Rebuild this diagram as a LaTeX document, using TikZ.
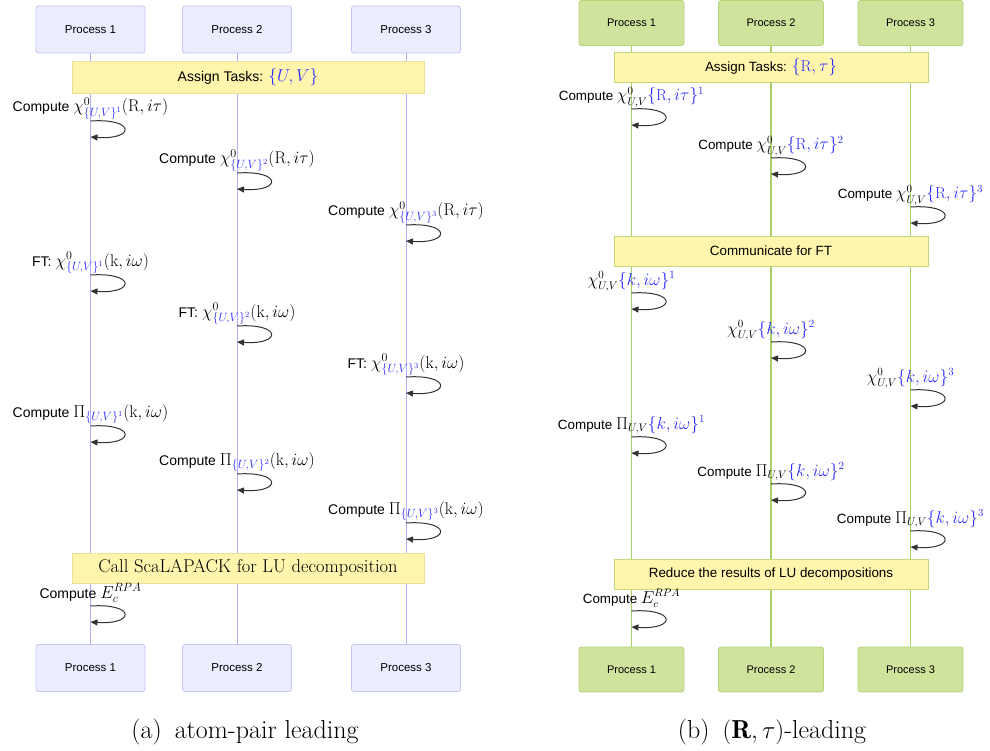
\documentclass[tikz,border=0pt]{standalone}
\usepackage{fontspec}
\setsansfont{Liberation Sans}
\usetikzlibrary{arrows.meta}
\definecolor{lbfill}{HTML}{ECECFF}
\definecolor{lbdraw}{HTML}{C4C4F5}
\definecolor{lline}{HTML}{B0B0FA}
\definecolor{gfill}{HTML}{CFE39D}
\definecolor{gdraw}{HTML}{B5D47A}
\definecolor{gline}{HTML}{A9CF68}
\definecolor{nfill}{HTML}{FFF5AD}
\definecolor{ndrawL}{HTML}{EAE09A}
\definecolor{ndrawR}{HTML}{C5D778}
\definecolor{blu}{RGB}{45,45,255}
\definecolor{arr}{HTML}{333333}
\newcommand\Mth[2][17]{{\fontsize{#1}{#1}\selectfont$#2$}}
\begin{document}
\begin{tikzpicture}[x=1pt,y=-1pt,
  pboxL/.style={draw=lbdraw, fill=lbfill, rounded corners=2.5pt, minimum width=109pt, minimum height=47pt, inner sep=0pt, line width=0.8pt, font=\sffamily\fontsize{11.5}{13}\selectfont},
  pboxR/.style={draw=gdraw, fill=gfill, rounded corners=2.5pt, minimum width=105pt, minimum height=45pt, inner sep=0pt, line width=0.8pt, font=\sffamily\fontsize{11}{13}\selectfont},
  noteL/.style={draw=ndrawL, fill=nfill, minimum width=352pt, inner sep=0pt, line width=0.8pt, font=\sffamily\fontsize{14}{16}\selectfont},
  noteR/.style={draw=ndrawR, fill=nfill, minimum width=314pt, minimum height=30pt, inner sep=0pt, line width=0.8pt, font=\sffamily\fontsize{13.4}{16}\selectfont},
  lifeL/.style={draw=lline, line width=1pt},
  lifeR/.style={draw=gline, line width=1.2pt},
  selfloop/.style={draw=arr, line width=1pt, -{Triangle[length=7pt,width=6pt]}},
  labL/.style={anchor=base, inner sep=0pt, font=\sffamily\fontsize{14}{16}\selectfont},
  labR/.style={anchor=base, inner sep=0pt, font=\sffamily\fontsize{13.4}{16}\selectfont},
  capt/.style={anchor=base, inner sep=0pt, font=\fontsize{26}{30}\selectfont}
]
\useasboundingbox (0,0) rectangle (990,751);
% ---------------- left panel ----------------
\node[pboxL] (L1t) at (90.5,29.5) {Process 1};
\node[pboxL] (L2t) at (237,29.5) {Process 2};
\node[pboxL] (L3t) at (406,29.5) {Process 3};
\node[pboxL] (L1b) at (90.5,668) {Process 1};
\node[pboxL] (L2b) at (237,668) {Process 2};
\node[pboxL] (L3b) at (406,668) {Process 3};
\draw[lifeL] (L1t.south) -- (L1b.north);
\draw[lifeL] (L2t.south) -- (L2b.north);
\draw[lifeL] (L3t.south) -- (L3b.north);
\node[noteL, minimum height=32pt] (LnA) at (248,77) {Assign Tasks: \Mth{\color{blu}\{U,V\}}};
\node[noteL, minimum height=30pt, font=\fontsize{18.5}{21}\selectfont] (LnB) at (248,568) {Call ScaLAPACK for LU decomposition};
% loops
\foreach \n/\x/\y in {a1/90.5/121, a2/237/173, a3/406/225, b1/90.5/275, b2/237/326, b3/406/377, c1/90.5/426, c2/237/474, c3/406/523, d1/90.5/606}{
  \coordinate (L\n s) at (\x,\y);
  \coordinate (L\n e) at (\x,\y+16);
  \draw[selfloop] (L\n s) .. controls +(45,-3) and +(45,3) .. (L\n e);
}
\node[labL] (tLa1) at (90.5,112) {Compute \Mth{\chi^0_{\color{blu}\{U,V\}^1}(\mathrm{R}, i\tau)}};
\node[labL] (tLa2) at (237,164) {Compute \Mth{\chi^0_{\color{blu}\{U,V\}^2}(\mathrm{R}, i\tau)}};
\node[labL] (tLa3) at (406,216) {Compute \Mth{\chi^0_{\color{blu}\{U,V\}^3}(\mathrm{R}, i\tau)}};
\node[labL] (tLb1) at (90.5,266) {FT: \Mth{\chi^0_{\color{blu}\{U,V\}^1}(\mathrm{k}, i\omega)}};
\node[labL] (tLb2) at (237,317) {FT: \Mth{\chi^0_{\color{blu}\{U,V\}^2}(\mathrm{k}, i\omega)}};
\node[labL] (tLb3) at (406,368) {FT: \Mth{\chi^0_{\color{blu}\{U,V\}^3}(\mathrm{k}, i\omega)}};
\node[labL] (tLc1) at (90.5,417) {Compute \Mth{\Pi_{\color{blu}\{U,V\}^1}(\mathrm{k}, i\omega)}};
\node[labL] (tLc2) at (237,465) {Compute \Mth{\Pi_{\color{blu}\{U,V\}^2}(\mathrm{k}, i\omega)}};
\node[labL] (tLc3) at (406,514) {Compute \Mth{\Pi_{\color{blu}\{U,V\}^3}(\mathrm{k}, i\omega)}};
\node[labL] (tLd1) at (90.5,598) {Compute \Mth{E_c^{RPA}}};
\node[capt] (capa) at (245,738) {(a)\enspace atom-pair leading};
% ---------------- right panel ----------------
\node[pboxR] (R1t) at (631.5,23) {Process 1};
\node[pboxR] (R2t) at (771,23) {Process 2};
\node[pboxR] (R3t) at (910.5,23) {Process 3};
\node[pboxR] (R1b) at (631.5,669.5) {Process 1};
\node[pboxR] (R2b) at (771,669.5) {Process 2};
\node[pboxR] (R3b) at (910.5,669.5) {Process 3};
\draw[lifeR] (R1t.south) -- (R1b.north);
\draw[lifeR] (R2t.south) -- (R2b.north);
\draw[lifeR] (R3t.south) -- (R3b.north);
\node[noteR] (RnA) at (771,67) {Assign Tasks: \Mth[16]{\color{blu}\{\mathrm{R},\tau\}}};
\node[noteR] (RnB) at (771,251) {Communicate for FT};
\node[noteR] (RnC) at (771,574) {Reduce the results of LU decompositions};
\foreach \n/\x/\y in {a1/631.5/109, a2/771/158, a3/910.5/207, b1/631.5/293, b2/771/342, b3/910.5/390, c1/631.5/437, c2/771/484, c3/910.5/531, d1/631.5/611}{
  \coordinate (R\n s) at (\x,\y);
  \coordinate (R\n e) at (\x,\y+16);
  \draw[selfloop] (R\n s) .. controls +(45,-3) and +(45,3) .. (R\n e);
}
\node[labR] (tRa1) at (631.5,101) {Compute \Mth[16]{\chi^0_{U,V}{\color{blu}\{\mathrm{R}, i\tau\}^1}}};
\node[labR] (tRa2) at (771,150) {Compute \Mth[16]{\chi^0_{U,V}{\color{blu}\{\mathrm{R}, i\tau\}^2}}};
\node[labR] (tRa3) at (910.5,199) {Compute \Mth[16]{\chi^0_{U,V}{\color{blu}\{\mathrm{R}, i\tau\}^3}}};
\node[labR] (tRb1) at (631.5,285) {\Mth[16]{\chi^0_{U,V}{\color{blu}\{k, i\omega\}^1}}};
\node[labR] (tRb2) at (771,334) {\Mth[16]{\chi^0_{U,V}{\color{blu}\{k, i\omega\}^2}}};
\node[labR] (tRb3) at (910.5,382) {\Mth[16]{\chi^0_{U,V}{\color{blu}\{k, i\omega\}^3}}};
\node[labR] (tRc1) at (631.5,429) {Compute \Mth[16]{\Pi_{U,V}{\color{blu}\{k, i\omega\}^1}}};
\node[labR] (tRc2) at (771,476) {Compute \Mth[16]{\Pi_{U,V}{\color{blu}\{k, i\omega\}^2}}};
\node[labR] (tRc3) at (910.5,523) {Compute \Mth[16]{\Pi_{U,V}{\color{blu}\{k, i\omega\}^3}}};
\node[labR] (tRd1) at (631.5,603) {Compute \Mth[16]{E_c^{RPA}}};
\node[capt] (capb) at (772,738) {(b)\enspace $(\mathbf{R},\tau)$-leading};
\end{tikzpicture}
\end{document}
